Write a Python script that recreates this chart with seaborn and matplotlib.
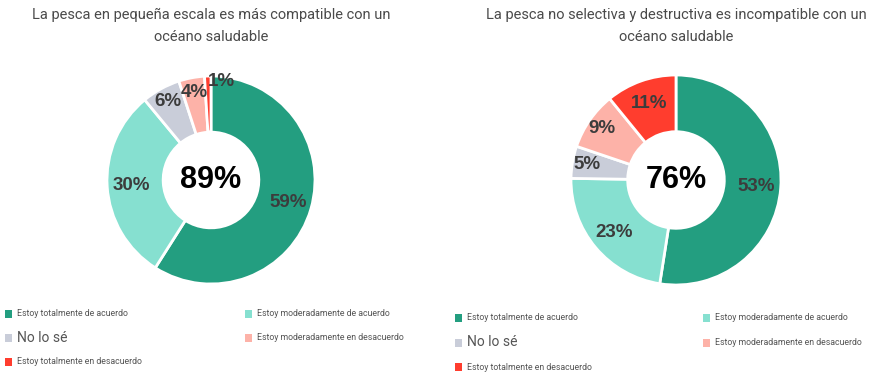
import numpy as np
import seaborn as sns
import matplotlib.pyplot as plt
from matplotlib.patches import Rectangle

# Data
categories = ['Estoy totalmente de acuerdo', 'Estoy moderadamente de acuerdo', 'No lo sé',
              'Estoy moderadamente en desacuerdo', 'Estoy totalmente en desacuerdo']
small_scale = [59, 30, 6, 4, 1]
destructive = [53, 23, 5, 9, 11]
small_scale_total = '89%'
destructive_total = '76%'
titles = ['La pesca en pequeña escala es más compatible con un\nocéano saludable',
          'La pesca no selectiva y destructiva es incompatible con un\nocéano saludable']

colors = ['#239e80', '#86e0d0', '#c9cdd9', '#fdb2a8', '#ff3d2e']

sns.set_theme(style='white')
plt.rcParams['font.family'] = ['Roboto', 'DejaVu Sans']

W, H = 889, 380
fig = plt.figure(figsize=(W / 100, H / 100), dpi=100)


def donut(cx, cy, r, values, total, title, legend_x, legend_y, dy):
    ax = fig.add_axes([(cx - r) / W, (H - cy - r) / H, 2 * r / W, 2 * r / H])
    wedges, _ = ax.pie(values, colors=colors, startangle=90, counterclock=False,
                       wedgeprops=dict(width=0.54, edgecolor='white', linewidth=2))
    ax.set_xlim(-1, 1)
    ax.set_ylim(-1, 1)
    ax.set_aspect('equal')
    ax.axis('off')
    for w, v in zip(wedges, values):
        ang = np.deg2rad((w.theta1 + w.theta2) / 2)
        rad = 0.77 if v >= 10 else 0.86
        if v < 3:
            ang -= np.deg2rad(8)
            rad = 0.95
        ax.text(rad * np.cos(ang), rad * np.sin(ang), f'{v}%', ha='center', va='center',
                fontsize=13.5, fontweight='bold', color='#3c3c3c', family='Liberation Sans')
    ax.text(0, 0, total, ha='center', va='center', fontsize=22, fontweight='bold',
            color='black', family='Liberation Sans')
    fig.text(cx / W, 1 - 26 / H, title, ha='center', va='center', fontsize=10.5,
             color='#4a4a4a', linespacing=1.75)

    # legend: column-first, 3 + 2
    cols = [legend_x, legend_x + dy[1]]
    slots = [(0, 0), (1, 0), (0, 1), (1, 1), (0, 2)]
    for i, (c, row) in enumerate(slots):
        x = cols[c]
        y = legend_y + row * dy[0]
        fig.patches.append(Rectangle((x / W, 1 - (y + 4) / H), 7 / W, 8 / H,
                                     transform=fig.transFigure, facecolor=colors[i],
                                     edgecolor='none'))
        big = categories[i] == 'No lo sé'
        fig.text((x + 12) / W, 1 - y / H, categories[i], ha='left', va='center',
                 fontsize=10 if big else 6.3, color='#555555')


donut(211, 180, 104, small_scale, small_scale_total, titles[0], 5, 314, (24, 240))
donut(676, 180, 105, destructive, destructive_total, titles[1], 455, 318, (24.5, 248))

fig.savefig('out.png', dpi=100, facecolor='white')
